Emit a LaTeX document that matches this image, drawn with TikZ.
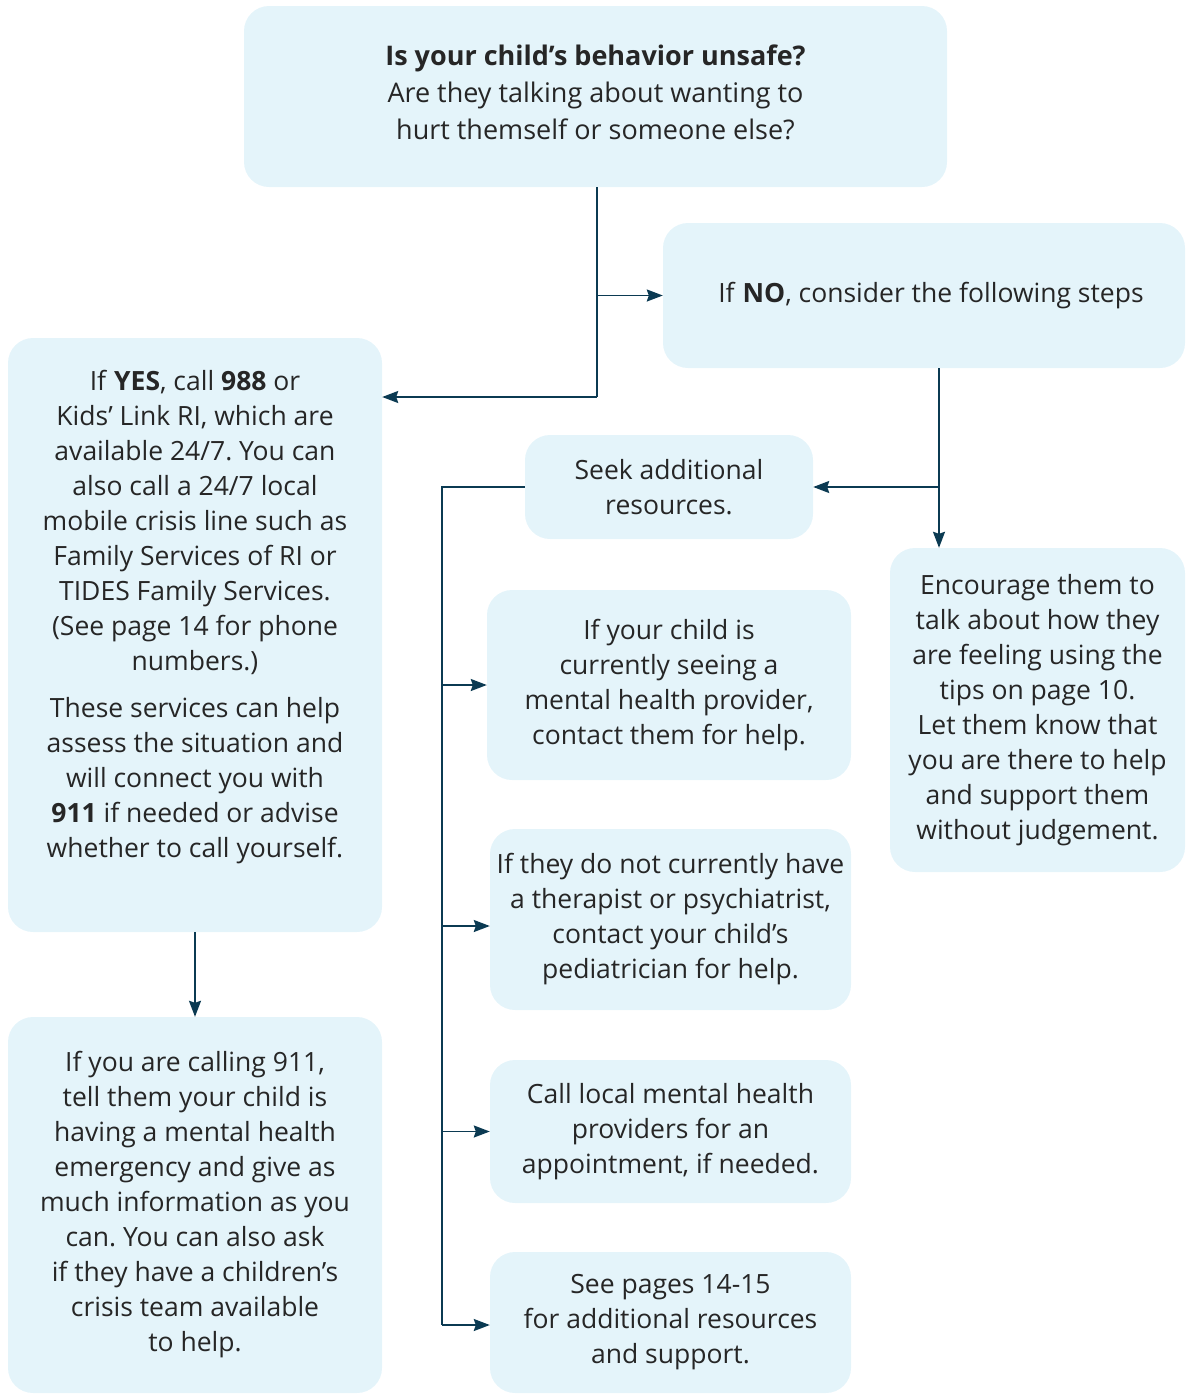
\documentclass[tikz,border=0pt]{standalone}
\usepackage{fontspec}
\setmainfont{Open Sans}
\usetikzlibrary{arrows.meta}
\definecolor{boxfill}{HTML}{E4F4FA}
\definecolor{linecol}{HTML}{0B3A52}
\definecolor{textcol}{HTML}{262626}
\frenchspacing
\begin{document}
\begin{tikzpicture}[x=1pt,y=-1pt,
  box/.style={fill=boxfill,rounded corners=25pt,inner sep=0pt,align=center,
    text=textcol,font=\fontsize{26.5}{35}\selectfont},
  arr/.style={draw=linecol,line width=1.8pt,-{Stealth[length=16pt,width=12pt,inset=2pt]}},
  wire/.style={draw=linecol,line width=1.8pt}]
\useasboundingbox (0,0) rectangle (1186,1395);
\node[box,minimum width=703pt,minimum height=181pt] (q) at (595.5,96.5) {};
\node[box,fill=none,font=\fontsize{27}{37}\selectfont] (qtext) at (595.5,92)
  {\textbf{Is your child’s behavior unsafe?}\\ Are they talking about wanting to\\ hurt themself or someone else?};
\node[box,minimum width=522pt,minimum height=145pt] (no) at (924,295.5) {};
\node[box,fill=none] (notext) at (931,295.5)
  {If \textbf{NO}, consider the following steps};
\node[box,minimum width=374pt,minimum height=594pt] (yes) at (195,635) {};
\node[box,fill=none] (yestext) at (195,617)
  {If \textbf{YES}, call \textbf{988} or\\ Kids’ Link RI, which are\\ available 24/7. You can\\ also call a 24/7 local\\ mobile crisis line such as\\ Family Services of RI or\\ TIDES Family Services.\\ (See page 14 for phone\\ numbers.)\\[12pt] These services can help\\ assess the situation and\\ will connect you with\\ \textbf{911} if needed or advise\\ whether to call yourself.};
\node[box,minimum width=374pt,minimum height=376pt] (n911) at (195,1205)
  {If you are calling 911,\\ tell them your child is\\ having a mental health\\ emergency and give as\\ much information as you\\ can. You can also ask\\ if they have a children’s\\ crisis team available\\ to help.};
\node[box,minimum width=288pt,minimum height=104pt] (seek) at (669,487)
  {Seek additional\\ resources.};
\node[box,minimum width=295pt,minimum height=324pt] (enc) at (1037.5,710)
  {Encourage them to\\ talk about how they\\ are feeling using the\\ tips on page 10.\\ Let them know that\\ you are there to help\\ and support them\\ without judgement.};
\node[box,minimum width=364pt,minimum height=190pt] (prov) at (669,685)
  {If your child is\\ currently seeing a\\ mental health provider,\\ contact them for help.};
\node[box,minimum width=361pt,minimum height=181pt] (ther) at (670.5,919.5)
  {If they do not currently have\\ a therapist or psychiatrist,\\ contact your child’s\\ pediatrician for help.};
\node[box,minimum width=361pt,minimum height=143pt] (call) at (670.5,1131.5)
  {Call local mental health\\ providers for an\\ appointment, if needed.};
\node[box,minimum width=361pt,minimum height=141pt] (see) at (670.5,1322.5)
  {See pages 14-15\\ for additional resources\\ and support.};
\coordinate (j1) at (597,397);
\coordinate (j2) at (939,487);
\coordinate (j3) at (442,1325);
\draw[wire] (q.south -| j1) -- (j1);
\draw[arr] (j1) -- (yes.east |- j1);
\draw[arr] (j1 |- no.west) -- (no.west);
\draw[arr] (no.south -| j2) -- (enc.north -| j2);
\draw[arr] (j2) -- (seek.east);
\draw[wire] (seek.west) -| (j3);
\draw[arr] (j3 |- prov.west) -- (prov.west);
\draw[arr] (j3 |- 0,926) -- (ther.west |- 0,926);
\draw[arr] (j3 |- call.west) -- (call.west);
\draw[arr] (j3) -- (see.west |- j3);
\draw[arr] (yes.south) -- (n911.north);
\end{tikzpicture}
\end{document}
